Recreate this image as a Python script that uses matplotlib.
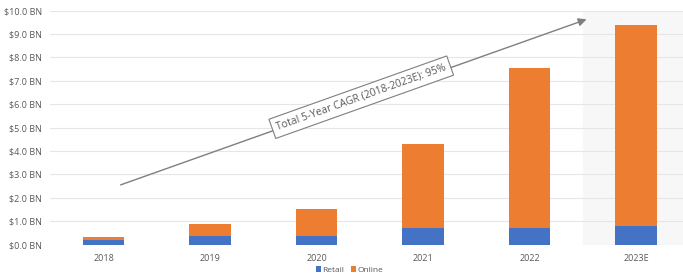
import matplotlib
matplotlib.use('Agg')
import matplotlib.pyplot as plt
import numpy as np

# Data (USD billions)
years = ['2018', '2019', '2020', '2021', '2022', '2023E']
retail = [0.20, 0.38, 0.38, 0.71, 0.69, 0.79]
total = [0.31, 0.89, 1.52, 4.31, 7.56, 9.37]
online = [t - r for t, r in zip(total, retail)]
yticks = np.arange(0, 11, 1.0)

blue = '#4472C4'
orange = '#ED7D31'
grey = '#595959'

plt.rcParams['font.family'] = ['Open Sans', 'DejaVu Sans']

fig = plt.figure(figsize=(6.83, 2.78), dpi=100)
ax = fig.add_axes([0.0736, 0.1205, 0.9356, 0.841])

x = np.arange(len(years))
ax.axvspan(x[-1] - 0.5, x[-1] + 0.5, color='#f7f7f7', zorder=0)
ax.bar(x, retail, width=0.39, color=blue, label='Retail', zorder=3)
ax.bar(x, online, width=0.39, bottom=retail, color=orange, label='Online', zorder=3)

ax.set_xlim(-0.5, len(years) - 0.5)
ax.set_ylim(0, 10)
ax.set_yticks(yticks)
ax.set_yticklabels(['$%.1f BN' % v for v in yticks])
ax.set_xticks(x)
ax.set_xticklabels(years)
ax.tick_params(axis='both', length=0, labelsize=6.5, colors=grey)
ax.tick_params(axis='x', pad=7)
ax.tick_params(axis='y', pad=6)
ax.grid(axis='y', color='#e6e6e6', lw=0.8, zorder=1)
for s in ax.spines.values():
    s.set_visible(False)

# CAGR arrow
ax.annotate('', xy=(4.56, 9.67), xytext=(0.136, 2.51),
            arrowprops=dict(arrowstyle='-|>', color='#7f7f7f', lw=1.0,
                            mutation_scale=12), zorder=4)
ax.text(2.42, 6.30, 'Total 5-Year CAGR (2018-2023E): 95%', rotation=19.6,
        ha='center', va='center', fontsize=7.5, color=grey, zorder=5,
        bbox=dict(boxstyle='square,pad=0.45', fc='white', ec='#7f7f7f', lw=0.8))

fig.legend(loc='center', bbox_to_anchor=(0.512, 0.028), ncol=2, frameon=False,
           fontsize=6, labelcolor=grey, handlelength=0.6, handleheight=0.6,
           handletextpad=0.2, columnspacing=0.8)

fig.savefig('out.png', dpi=100)
